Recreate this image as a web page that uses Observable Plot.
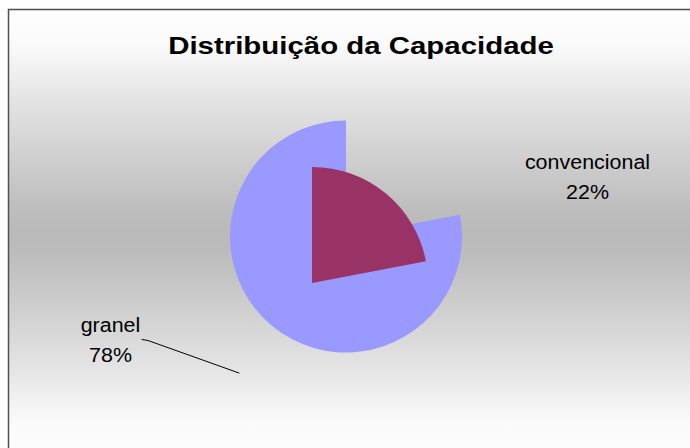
<!DOCTYPE html>
<html><head><meta charset="utf-8">
<script src="https://cdn.jsdelivr.net/npm/d3@7"></script>
<script src="https://cdn.jsdelivr.net/npm/@observablehq/plot@0.6"></script>
<style>body{margin:0;background:#fff;overflow:hidden}</style>
</head><body><div id="chart"></div>
<script>
// ---- data ----
const categories = ["convencional", "granel"];
const values = [22, 78];
const percentLabels = ["22%", "78%"];
const chartTitle = "Distribuição da Capacidade";
const sliceColors = ["#993366", "#9999FF"];

// ---- layout ----
const W = 690, H = 448;
const R = 116;
const centers = {convencional: [312, 283], granel: [346, 236.5]};
const labelPos = {convencional: [587, 168.5], granel: [110, 331]};
const lineGap = 30;
const leader = [[141.5, 339], [147.5, 340], [238.5, 372.5]];
const font = "Liberation Sans, Arial, sans-serif";

const data = categories.map((c, i) => ({category: c, value: values[i], pct: percentLabels[i], color: sliceColors[i]}));
const arcs = d3.pie().sort(null).value(d => d.value)(data);
const arcGen = d3.arc().innerRadius(0).outerRadius(R);

function background() {
  const g = d3.create("svg:g");
  const grad = g.append("defs").append("linearGradient")
    .attr("id", "bgGrad").attr("x1", 0).attr("x2", 0).attr("y1", 0).attr("y2", 1);
  [[0, "#fdfdfd"], [0.08, "#fafafa"], [0.2, "#e4e4e4"], [0.35, "#cccccc"], [0.45, "#bdbdbd"], [0.5, "#b9b9b9"], [0.55, "#bdbdbd"], [0.65, "#cccccc"], [0.8, "#e4e4e4"], [0.92, "#fafafa"], [1, "#fdfdfd"]]
    .forEach(([o, c]) => grad.append("stop").attr("offset", o).attr("stop-color", c));
  g.append("rect").attr("x", 8.5).attr("y", 9.5).attr("width", W + 10).attr("height", H)
    .attr("fill", "url(#bgGrad)").attr("stroke", "#505050").attr("stroke-width", 1.5);
  return g.node();
}

function pieMark(index, scales) {
  const g = d3.create("svg:g");
  // draw larger slice first, smaller on top
  const order = arcs.slice().sort((a, b) => b.value - a.value);
  for (const a of order) {
    const [cx, cy] = centers[a.data.category];
    g.append("path")
      .attr("transform", `translate(${scales.x(cx)},${scales.y(cy)})`)
      .attr("d", arcGen(a))
      .attr("fill", a.data.color);
  }
  return g.node();
}

const chart = Plot.plot({
  width: W, height: H, margin: 0,
  x: {domain: [0, W], range: [0, W], axis: null},
  y: {domain: [0, H], range: [0, H], axis: null},
  style: {background: "white", fontFamily: font},
  marks: [
    background,
    pieMark,
    Plot.line(leader, {x: d => d[0], y: d => d[1], stroke: "#000", strokeWidth: 1}),
    Plot.text([chartTitle], {x: 360.5, y: 53.3, text: d => d, fontSize: 24.5, fontWeight: "bold", fill: "#000", lineAnchor: "bottom", textAnchor: "middle"}),
    Plot.text(data, {x: d => labelPos[d.category][0], y: d => labelPos[d.category][1], text: "category", fontSize: 19.5, fill: "#000", lineAnchor: "bottom", textAnchor: "middle"}),
    Plot.text(data, {x: d => labelPos[d.category][0], y: d => labelPos[d.category][1] + lineGap, text: "pct", fontSize: 19.5, fill: "#000", lineAnchor: "bottom", textAnchor: "middle"})
  ]
});
document.getElementById("chart").appendChild(chart);

// horizontal stretch of the text to match the reference rendering
d3.select(chart).selectAll("text").each(function() {
  const t = this;
  const bold = t.getAttribute("font-weight") === "bold" || t.parentNode.getAttribute("font-weight") === "bold";
  const sx = bold ? 1.2 : 1.1;
  const len = t.getComputedTextLength();
  t.setAttribute("textLength", len * sx);
  t.setAttribute("lengthAdjust", "spacingAndGlyphs");
});
</script>
</body></html>
